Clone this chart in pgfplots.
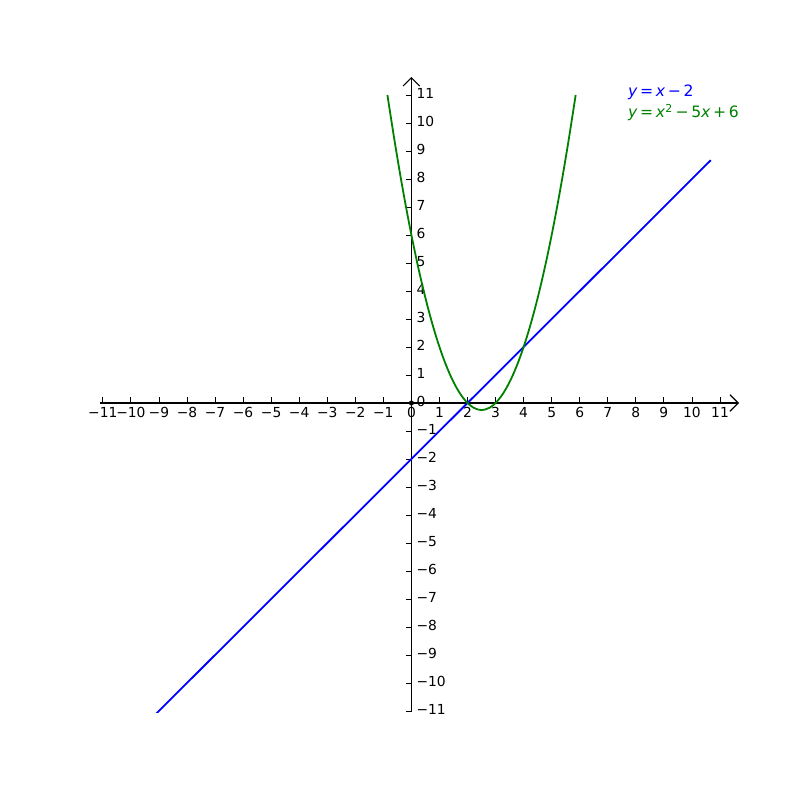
\documentclass[border=0pt]{standalone}
\usepackage{fontspec}
\setmainfont{DejaVu Sans}
\usepackage{pgfplots}
\pgfplotsset{compat=1.18}
\usetikzlibrary{arrows.meta}
\definecolor{mplblue}{RGB}{0,0,255}
\definecolor{mplgreen}{RGB}{0,128,0}
\begin{document}
\begin{tikzpicture}[x=1in,y=1in]
\begin{axis}[
  name=ax,
  at={(1in,0.876in)}, anchor=south west,
  scale only axis,
  width=6.2in, height=6.188in,
  xmin=-11.1, xmax=11.0,
  ymin=-11.05, ymax=11.05,
  axis lines=middle,
  axis line style={line width=0.8pt},
  x axis line style={-{Straight Barb[length=6pt,width=12pt]}, shorten >=-0.19in},
  y axis line style={-{Straight Barb[length=6pt,width=12pt]}, shorten >=-0.166in},
  hide obscured x ticks=false, hide obscured y ticks=false,
  xtick={-11,-10,-9,-8,-7,-6,-5,-4,-3,-2,-1,0,1,2,3,4,5,6,7,8,9,10,11},
  ytick={-11,-10,-9,-8,-7,-6,-5,-4,-3,-2,-1,0,1,2,3,4,5,6,7,8,9,10,11},
  xticklabels={−11,−10,−9,−8,−7,−6,−5,−4,−3,−2,−1,0,1,2,3,4,5,6,7,8,9,10,11},
  yticklabels={−11,−10,−9,−8,−7,−6,−5,−4,−3,−2,−1,0,1,2,3,4,5,6,7,8,9,10,11},
  xtick align=inside, ytick align=outside,
  major tick length=4pt,
  tick style={black, line width=0.6pt},
  xticklabel style={anchor=north, inner sep=1pt, yshift=-2pt, font=\fontsize{10}{12}\selectfont},
  yticklabel style={anchor=west, inner sep=1pt, xshift=6.5pt, yshift=1pt, font=\fontsize{10}{12}\selectfont},
  clip=true,
  legend style={draw=none, fill=none, at={(0.847,1.019)}, anchor=north west,
    font=\fontsize{11.3}{14}\selectfont, row sep=0pt, inner sep=0pt,
    legend cell align=left},
  legend image code/.code={},
]
\addplot[mplblue, line width=1.3pt] coordinates {(-9.1,-11.1) (10.67,8.67)};
\addlegendentry{\textcolor{mplblue}{\textit{y}\,=\,\textit{x}\,−\,2}}
\addplot[mplgreen, line width=1.3pt, smooth] coordinates {
(-0.854,11) (-0.8,10.64) (-0.6,9.36) (-0.4,8.16) (-0.2,7.04) (0,6) (0.2,5.04)
(0.4,4.16) (0.6,3.36) (0.8,2.64) (1.0,2) (1.2,1.44) (1.4,0.96) (1.6,0.56)
(1.8,0.24) (2.0,0) (2.2,-0.16) (2.4,-0.24) (2.5,-0.25) (2.6,-0.24) (2.8,-0.16)
(3.0,0) (3.2,0.24) (3.4,0.56) (3.6,0.96) (3.8,1.44) (4.0,2) (4.2,2.64)
(4.4,3.36) (4.6,4.16) (4.8,5.04) (5.0,6) (5.2,7.04) (5.4,8.16) (5.6,9.36)
(5.8,10.64) (5.854,11)};
\addlegendentry{\textcolor{mplgreen}{\textit{y}\,=\,\textit{x}\textsuperscript{2}\,−\,5\textit{x}\,+\,6}}
\addplot[black, only marks, mark=*, mark size=1.6pt, forget plot] coordinates {(0,0)};
\end{axis}
\pgfresetboundingbox
\path[use as bounding box] (0,0) rectangle (8,8);
\end{tikzpicture}
\end{document}
